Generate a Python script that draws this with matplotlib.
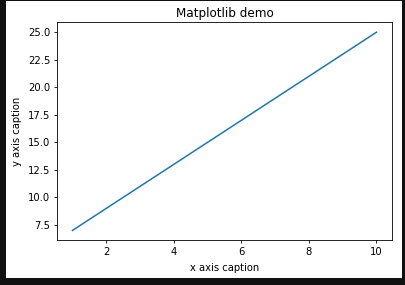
import matplotlib
matplotlib.use("Agg")
import matplotlib.pyplot as plt
from matplotlib.patches import Rectangle

x = [1, 2, 3, 4, 5, 6, 7, 8, 9, 10]
y = [7, 9, 11, 13, 15, 17, 19, 21, 23, 25]

W, H = 406, 285
fig = plt.figure(figsize=(W / 100, H / 100), dpi=100, facecolor="#111111")
# white canvas inside the dark frame
fig.patches.append(Rectangle((6 / W, (H - 278) / H), (402 - 6) / W, (278 - 1) / H,
                             transform=fig.transFigure, facecolor="white",
                             edgecolor="none", zorder=-10))

ax = fig.add_axes([57.3 / W, (H - 240.3) / H, (391.7 - 57.3) / W, (240.3 - 22.3) / H])
ax.set_zorder(1)
ax.plot(x, y, color="#1f77b4", linewidth=1.1)

fs = 7.2
ax.set_title("Matplotlib demo", fontsize=fs * 1.2, pad=4)
ax.set_xlabel("x axis caption", fontsize=fs)
ax.set_ylabel("y axis caption", fontsize=fs)
ax.tick_params(labelsize=fs, length=2.5, width=0.6, pad=2.5)
for s in ax.spines.values():
    s.set_linewidth(0.6)

fig.savefig("out.png", dpi=100, facecolor=fig.get_facecolor())
